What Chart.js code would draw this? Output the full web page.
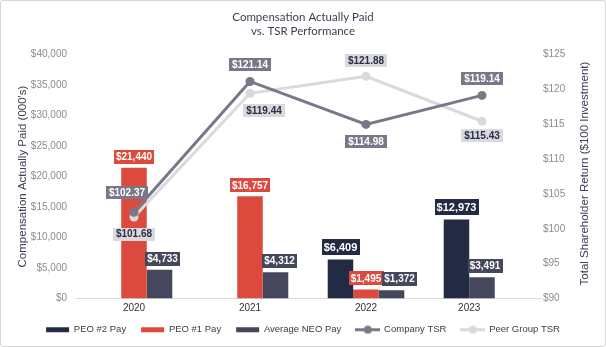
<!DOCTYPE html>
<html>
<head>
<meta charset="utf-8">
<title>Compensation Actually Paid vs. TSR Performance</title>
<script src="https://cdn.jsdelivr.net/npm/chart.js@4.4.0/dist/chart.umd.min.js"></script>
<style>
  html, body { margin: 0; padding: 0; background: #fff; }
  #wrap { width: 604px; height: 345px; border: 1px solid #d6d6d6; border-radius: 3px; }
  canvas { display: block; }
</style>
</head>
<body>
<div id="wrap"><canvas id="chart" width="604" height="345"></canvas></div>
<script>
const years = ["2020", "2021", "2022", "2023"];
const peo2Pay = [null, null, 6409, 12973];
const peo1Pay = [21440, 16757, 1495, null];
const neoPay = [4733, 4312, 1372, 3491];
const companyTsr = [102.37, 121.14, 114.98, 119.14];
const peerTsr = [101.68, 119.44, 121.88, 115.43];

// where the value tags sit relative to their point / bar
const companyTagOffset = [[-7, -20], [0, -17], [0, 17], [0, -17]];
const peerTagOffset = [[0, 17], [14, 17], [0, -16], [0, 14]];
const neoTagShift = [3, 4, 8, 3];

const NAVY = "#232a44";
const RED = "#dc4a3d";
const SLATE = "#45475c";
const COMPANY = "#7a7789";
const PEER = "#d9d9de";
const SANS = "'Liberation Sans', Arial, sans-serif";

const money = v => "$" + v.toLocaleString("en-US");
const money2 = v => "$" + v.toFixed(2);

// legend icon for the line series: a short line with a dot in the middle
function lineIcon(color) {
  const c = document.createElement("canvas");
  c.width = 25; c.height = 9;
  const g = c.getContext("2d");
  g.strokeStyle = color; g.lineWidth = 3;
  g.beginPath(); g.moveTo(0, 4.5); g.lineTo(25, 4.5); g.stroke();
  g.fillStyle = color;
  g.beginPath(); g.arc(12.5, 4.5, 4, 0, Math.PI * 2); g.fill();
  return c;
}

function drawTag(ctx, text, cx, cy, o) {
  ctx.font = o.font;
  const w = ctx.measureText(text).width + o.padX * 2;
  ctx.fillStyle = o.bg;
  ctx.fillRect(Math.round(cx - w / 2), Math.round(cy - o.h / 2), Math.round(w), o.h);
  ctx.fillStyle = o.color;
  ctx.textAlign = "center";
  ctx.textBaseline = "middle";
  ctx.fillText(text, cx, cy + 0.5);
}

const tagPlugin = {
  id: "tags",
  afterDatasetsDraw(chart) {
    const ctx = chart.ctx;
    ctx.save();
    chart.data.datasets.forEach((ds, di) => {
      const meta = chart.getDatasetMeta(di);
      meta.data.forEach((el, i) => {
        const v = ds.data[i];
        if (v === null) return;
        if (ds.type === "line") {
          const off = ds.tagOffset[i];
          drawTag(ctx, money2(v), el.x + off[0], el.y + off[1], {
            font: "bold 10px " + SANS, padX: 3, h: 13,
            bg: ds.borderColor, color: ds.tagColor
          });
        } else {
          const big = ds.stack === "peo2";
          const h = big ? 16 : 14;
          drawTag(ctx, money(v), el.x + (ds.tagShift ? ds.tagShift[i] : 0), el.y - 4 - h / 2, {
            font: (big ? "bold 11px " : "bold 10px ") + SANS, padX: 2, h: h,
            bg: ds.backgroundColor, color: "#ffffff"
          });
        }
      });
    });
    ctx.restore();
  },
  afterDraw(chart) {
    const ctx = chart.ctx;
    const x = chart.scales.x;
    const area = chart.chartArea;
    ctx.save();
    // year labels centred under the occupied part of each bar group
    const barMetas = chart.data.datasets
      .map((ds, di) => ({ ds, meta: chart.getDatasetMeta(di) }))
      .filter(m => m.ds.type !== "line");
    const slot = barMetas[0].meta.data[0].width;
    ctx.font = "10px " + SANS;
    ctx.fillStyle = "#333333";
    ctx.textAlign = "center";
    ctx.textBaseline = "middle";
    years.forEach((yr, i) => {
      const left = x.getPixelForValue(i) - slot * 1.5;
      let right = left;
      barMetas.forEach(m => {
        if (m.ds.data[i] === null) return;
        const el = m.meta.data[i];
        right = Math.max(right, el.x + el.width / 2);
      });
      ctx.fillText(yr, (left + right) / 2, area.bottom + 10);
    });
    // right axis title, reading bottom to top
    ctx.font = "11.5px " + SANS;
    ctx.fillStyle = "#3b3f52";
    ctx.translate(584, (area.top + area.bottom) / 2 - 3);
    ctx.rotate(-Math.PI / 2);
    ctx.fillText("Total Shareholder Return ($100 Investment)", 0, 0);
    ctx.restore();
  }
};

const ctx = document.getElementById("chart").getContext("2d");
new Chart(ctx, {
  type: "bar",
  data: {
    labels: years,
    datasets: [
      {
        type: "line", label: "Company TSR", data: companyTsr, yAxisID: "y1", order: 0,
        borderColor: COMPANY, backgroundColor: COMPANY, borderWidth: 3,
        pointRadius: 4.5, pointBorderWidth: 0, pointBackgroundColor: COMPANY,
        tension: 0, tagOffset: companyTagOffset, tagColor: "#ffffff"
      },
      {
        type: "line", label: "Peer Group TSR", data: peerTsr, yAxisID: "y1", order: 1,
        borderColor: PEER, backgroundColor: PEER, borderWidth: 3,
        pointRadius: 4.5, pointBorderWidth: 0, pointBackgroundColor: PEER,
        tension: 0, tagOffset: peerTagOffset, tagColor: "#2a2f45"
      },
      { label: "PEO #2 Pay", data: peo2Pay, backgroundColor: NAVY, stack: "peo2", order: 2 },
      { label: "PEO #1 Pay", data: peo1Pay, backgroundColor: RED, stack: "peo1", order: 3 },
      {
        label: "Average NEO Pay", data: neoPay.map((v, i) => peo1Pay[i] === null ? null : v),
        backgroundColor: SLATE, stack: "neo", order: 4, tagShift: neoTagShift
      },
      // when there is no PEO #1 bar the NEO bar takes its slot
      {
        label: "Average NEO Pay", data: neoPay.map((v, i) => peo1Pay[i] === null ? v : null),
        backgroundColor: SLATE, stack: "peo1", order: 5, tagShift: neoTagShift, noLegend: true
      }
    ]
  },
  options: {
    responsive: false,
    animation: false,
    devicePixelRatio: 1,
    layout: { padding: { left: 0, right: 0, top: 0, bottom: 1.5 } },
    datasets: {
      bar: { barPercentage: 1, categoryPercentage: 0.66, borderWidth: 0 }
    },
    scales: {
      x: {
        stacked: true,
        grid: { display: false, drawTicks: false },
        border: { display: true, color: "#d9d9d9", width: 1 },
        ticks: { display: false },
        afterFit: s => { s.height = 11.5; }
      },
      y: {
        stacked: true,
        position: "left",
        min: 0, max: 40000,
        grid: { display: false, drawTicks: false },
        border: { display: false },
        ticks: {
          stepSize: 5000, padding: 9, color: "#8c8c8c",
          font: { family: SANS, size: 10 },
          callback: v => money(v)
        },
        title: {
          display: true, text: "Compensation Actually Paid (000's)", color: "#3b3f52",
          font: { family: SANS, size: 11.5 }, padding: { top: 14.5, bottom: 0 }
        },
        afterFit: s => { s.width = 75; }
      },
      y1: {
        stacked: false,
        position: "right",
        min: 90, max: 125,
        grid: { display: false, drawTicks: false },
        border: { display: false },
        ticks: {
          stepSize: 5, padding: 3, color: "#8c8c8c",
          font: { family: SANS, size: 10 },
          callback: v => "$" + v
        },
        afterFit: s => { s.width = 65; }
      }
    },
    plugins: {
      tooltip: { enabled: false },
      title: {
        display: true,
        text: ["Compensation Actually Paid", "vs. TSR Performance"],
        color: "#3b3f52",
        font: { family: "Lato, sans-serif", size: 11.5, weight: "normal", lineHeight: 1.22 },
        padding: { top: 9.5, bottom: 16 }
      },
      legend: {
        position: "bottom",
        labels: {
          usePointStyle: true,
          pointStyleWidth: 23,
          boxHeight: 5,
          padding: 15,
          color: "#3c3c3c",
          font: { family: SANS, size: 9.5 },
          generateLabels: chart => chart.data.datasets
            .map((ds, i) => ({ ds, i }))
            .filter(d => !d.ds.noLegend)
            .sort((a, b) => (a.ds.type === "line") - (b.ds.type === "line") || a.i - b.i)
            .map(d => ({
              text: d.ds.label,
              datasetIndex: d.i,
              fillStyle: d.ds.backgroundColor,
              strokeStyle: d.ds.backgroundColor,
              lineWidth: 0,
              fontColor: "#3c3c3c",
              hidden: false,
              pointStyle: d.ds.type === "line" ? lineIcon(d.ds.borderColor) : "rect"
            }))
        }
      }
    }
  },
  plugins: [tagPlugin]
});
</script>
</body>
</html>
